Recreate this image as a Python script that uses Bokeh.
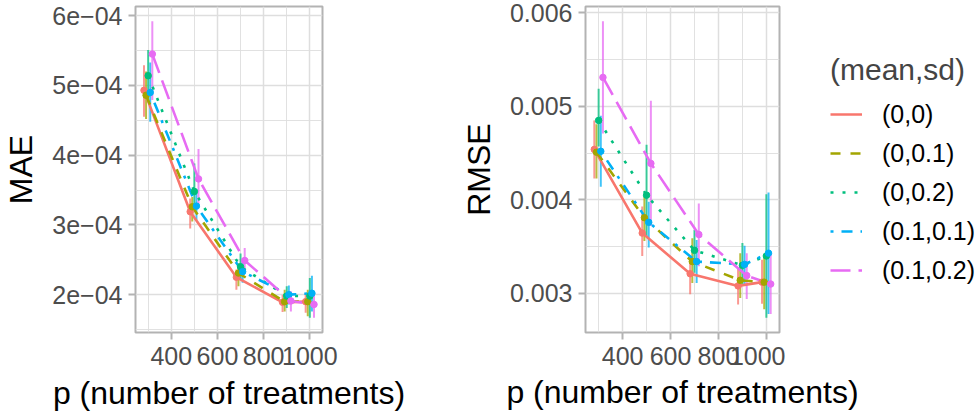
from bokeh.plotting import figure
from bokeh.layouts import row, column
from bokeh.models import (Range1d, FixedTicker, Legend, LegendItem,
                          CustomJSTickFormatter, Label)
from bokeh.embed import file_html
from bokeh.resources import INLINE

# ---- data -------------------------------------------------------------
P = [300, 500, 700, 900, 1000]
SERIES = ["(0,0)", "(0,0.1)", "(0,0.2)", "(0.1,0.1)", "(0.1,0.2)"]

# MAE: mean and interval bounds per (mean,sd) setting
MAE_00 = [4.93e-4, 3.19e-4, 2.25e-4, 1.89e-4, 1.90e-4]
MAE_00_LO = [4.55e-4, 2.95e-4, 2.07e-4, 1.75e-4, 1.74e-4]
MAE_00_HI = [5.29e-4, 3.38e-4, 2.36e-4, 2.00e-4, 2.02e-4]
MAE_001 = [4.86e-4, 3.26e-4, 2.31e-4, 1.90e-4, 1.90e-4]
MAE_001_LO = [4.52e-4, 3.05e-4, 2.12e-4, 1.76e-4, 1.69e-4]
MAE_001_HI = [5.20e-4, 3.40e-4, 2.45e-4, 2.07e-4, 2.07e-4]
MAE_002 = [5.14e-4, 3.48e-4, 2.40e-4, 1.98e-4, 1.98e-4]
MAE_002_LO = [4.76e-4, 3.21e-4, 2.21e-4, 1.81e-4, 1.67e-4]
MAE_002_HI = [5.51e-4, 3.88e-4, 2.59e-4, 2.12e-4, 2.24e-4]
MAE_0101 = [4.90e-4, 3.27e-4, 2.33e-4, 2.00e-4, 2.02e-4]
MAE_0101_LO = [4.48e-4, 3.07e-4, 2.17e-4, 1.86e-4, 1.76e-4]
MAE_0101_HI = [5.33e-4, 3.48e-4, 2.52e-4, 2.13e-4, 2.27e-4]
MAE_0102 = [5.45e-4, 3.66e-4, 2.49e-4, 1.91e-4, 1.86e-4]
MAE_0102_LO = [4.79e-4, 3.26e-4, 2.31e-4, 1.76e-4, 1.67e-4]
MAE_0102_HI = [5.92e-4, 4.09e-4, 2.67e-4, 2.05e-4, 2.05e-4]

# RMSE: mean and interval bounds per (mean,sd) setting
RMSE_00 = [4.54e-3, 3.645e-3, 3.21e-3, 3.08e-3, 3.12e-3]
RMSE_00_LO = [4.23e-3, 3.40e-3, 2.99e-3, 2.88e-3, 2.89e-3]
RMSE_00_HI = [4.85e-3, 3.93e-3, 3.40e-3, 3.27e-3, 3.36e-3]
RMSE_001 = [4.51e-3, 3.81e-3, 3.34e-3, 3.14e-3, 3.12e-3]
RMSE_001_LO = [4.23e-3, 3.56e-3, 3.11e-3, 2.95e-3, 2.83e-3]
RMSE_001_HI = [4.81e-3, 4.03e-3, 3.59e-3, 3.43e-3, 3.41e-3]
RMSE_002 = [4.85e-3, 4.05e-3, 3.46e-3, 3.30e-3, 3.40e-3]
RMSE_002_LO = [4.57e-3, 3.61e-3, 3.22e-3, 3.08e-3, 2.74e-3]
RMSE_002_HI = [5.19e-3, 4.59e-3, 3.68e-3, 3.54e-3, 4.06e-3]
RMSE_0101 = [4.52e-3, 3.76e-3, 3.34e-3, 3.31e-3, 3.43e-3]
RMSE_0101_LO = [4.14e-3, 3.49e-3, 3.11e-3, 3.10e-3, 2.78e-3]
RMSE_0101_HI = [4.90e-3, 3.98e-3, 3.57e-3, 3.51e-3, 4.08e-3]
RMSE_0102 = [5.31e-3, 4.39e-3, 3.63e-3, 3.19e-3, 3.10e-3]
RMSE_0102_LO = [4.71e-3, 3.72e-3, 3.29e-3, 2.94e-3, 2.78e-3]
RMSE_0102_HI = [5.91e-3, 5.06e-3, 3.96e-3, 3.43e-3, 3.43e-3]

X_TICKS = [400, 600, 800, 1000]
X_MINOR = [300, 500, 700, 900]
MAE_TICKS = [2e-4, 3e-4, 4e-4, 5e-4, 6e-4]
MAE_MINOR = [1.5e-4, 2.5e-4, 3.5e-4, 4.5e-4, 5.5e-4]
RMSE_TICKS = [0.003, 0.004, 0.005, 0.006]
RMSE_MINOR = [0.0035, 0.0045, 0.0055]

X_TITLE = "p (number of treatments)"

MAE = [(MAE_00, MAE_00_LO, MAE_00_HI), (MAE_001, MAE_001_LO, MAE_001_HI),
       (MAE_002, MAE_002_LO, MAE_002_HI), (MAE_0101, MAE_0101_LO, MAE_0101_HI),
       (MAE_0102, MAE_0102_LO, MAE_0102_HI)]
RMSE = [(RMSE_00, RMSE_00_LO, RMSE_00_HI), (RMSE_001, RMSE_001_LO, RMSE_001_HI),
        (RMSE_002, RMSE_002_LO, RMSE_002_HI), (RMSE_0101, RMSE_0101_LO, RMSE_0101_HI),
        (RMSE_0102, RMSE_0102_LO, RMSE_0102_HI)]

# ---- style ------------------------------------------------------------
COLORS = ["#F8766D", "#A3A500", "#00BF7D", "#00B0F6", "#E76BF3"]
DASHES = ["solid", "10 10", "3 9", "3 8 11 8", "20 8"]
FONT = "Liberation Sans"
DODGE = 45.0
GRID = "#DEDEDE"
FRAME = "#B3B3B3"
LINE_W = 2.6


def dodge_x(i):
    n = len(SERIES)
    step = DODGE / n
    return [p + (i - (n - 1) / 2) * step for p in P]


def expand(lo, hi, frac=0.05):
    w = hi - lo
    return lo - frac * w, hi + frac * w


def blank(width, height):
    f = figure(width=width, height=height, output_backend="svg",
               toolbar_location=None, x_range=Range1d(0, 1),
               y_range=Range1d(0, 1), x_axis_location=None,
               y_axis_location=None, min_border=0)
    f.outline_line_color = None
    f.grid.visible = False
    return f


def panel(data, ylabel, yticks, yminor, fmt_code, width, height, left,
          right, bottom, xlabel):
    all_x = [x for i in range(len(SERIES)) for x in dodge_x(i)]
    y_lo = min(min(s[1]) for s in data)
    y_hi = max(max(s[2]) for s in data)
    x0, x1 = expand(min(all_x), max(all_x))
    y0, y1 = expand(y_lo, y_hi)

    f = figure(width=width, height=height, output_backend="svg",
               toolbar_location=None, x_range=Range1d(x0, x1),
               y_range=Range1d(y0, y1), min_border_left=left,
               min_border_right=right, min_border_top=6,
               min_border_bottom=bottom)
    f.background_fill_color = "white"
    f.border_fill_color = "white"
    f.outline_line_color = FRAME
    f.outline_line_width = 2

    f.xaxis.ticker = FixedTicker(ticks=X_TICKS, minor_ticks=X_MINOR)
    f.yaxis.ticker = FixedTicker(ticks=yticks, minor_ticks=yminor)
    f.yaxis.formatter = CustomJSTickFormatter(code=fmt_code)
    if xlabel:
        f.xaxis.axis_label = xlabel
    f.yaxis.axis_label = ylabel

    for ax in (f.xaxis, f.yaxis):
        ax.axis_line_color = None
        ax.major_tick_line_color = FRAME
        ax.major_tick_line_width = 2
        ax.major_tick_in = 0
        ax.major_tick_out = 7
        ax.minor_tick_line_color = None
        ax.major_label_text_font = FONT
        ax.major_label_text_font_size = "25px"
        ax.major_label_text_color = "#4D4D4D"
        ax.axis_label_text_font = FONT
        ax.axis_label_text_font_size = "32px"
        ax.axis_label_text_font_style = "normal"
        ax.axis_label_text_color = "black"
    f.xaxis.major_label_standoff = 7
    f.xaxis.axis_label_standoff = 7
    f.yaxis.major_label_standoff = 6
    f.yaxis.axis_label_standoff = 10

    for g in (f.xgrid, f.ygrid):
        g.grid_line_color = GRID
        g.grid_line_width = 1.5
        g.minor_grid_line_color = GRID
        g.minor_grid_line_width = 0.9

    # interval bars first, then lines, then points on top
    for i, (mean, lo, hi) in enumerate(data):
        f.segment(x0=dodge_x(i), y0=lo, x1=dodge_x(i), y1=hi,
                  line_color=COLORS[i], line_width=2, line_alpha=0.75)
    for i, (mean, lo, hi) in enumerate(data):
        f.line(dodge_x(i), mean, line_color=COLORS[i], line_width=LINE_W,
               line_dash=DASHES[i])
    for i, (mean, lo, hi) in enumerate(data):
        f.scatter(dodge_x(i), mean, size=6.5, fill_color=COLORS[i],
                  line_color=COLORS[i])
    return f


LEFT_W = 428
RIGHT_W = 785 - LEFT_W
TOP_H = 375
mae_fig = panel(MAE, "MAE", MAE_TICKS, MAE_MINOR,
                "return Math.round(tick * 1e4) + 'e\u221204';",
                LEFT_W, 415, 135, LEFT_W - 322, 83, X_TITLE)
rmse_fig = panel(RMSE, "RMSE", RMSE_TICKS, RMSE_MINOR,
                 "return tick.toFixed(3);",
                 RIGHT_W, TOP_H, 585 - LEFT_W, 6, TOP_H - 332, None)

# legend column: line keys styled like the series (no visible data)
key_fig = blank(977 - LEFT_W - RIGHT_W, TOP_H)
nan = float("nan")
keys = [key_fig.line(x=[nan], y=[nan], line_color=c, line_width=LINE_W,
                     line_dash=d) for c, d in zip(COLORS, DASHES)]

legend = Legend(items=[LegendItem(label=s, renderers=[r])
                       for s, r in zip(SERIES, keys)],
                title="(mean,sd)", location=(45, 47))
legend.title_text_font = FONT
legend.title_text_font_size = "30px"
legend.title_text_font_style = "normal"
legend.title_standoff = 12
legend.label_text_font = FONT
legend.label_text_font_size = "25px"
legend.label_text_color = "black"
legend.glyph_width = 32
legend.glyph_height = 30
legend.label_height = 30
legend.label_standoff = 20
legend.spacing = 9
legend.padding = 10
legend.margin = 0
legend.border_line_color = None
legend.background_fill_alpha = 0
key_fig.add_layout(legend, "center")

# x-axis title strip under the RMSE panel (spans into the legend column)
xlab_fig = blank(977 - LEFT_W, 415 - TOP_H)
xlab_fig.add_layout(Label(x=(585 + 779) / 2 - LEFT_W, y=24, x_units="screen",
                          y_units="screen", text=X_TITLE, text_align="center",
                          text_baseline="alphabetic", text_font=FONT,
                          text_font_size="32px", text_color="black"))

layout = row(mae_fig, column(row(rmse_fig, key_fig, spacing=0), xlab_fig,
                             spacing=0), spacing=0)
open("out.html", "w").write(file_html(layout, INLINE))
